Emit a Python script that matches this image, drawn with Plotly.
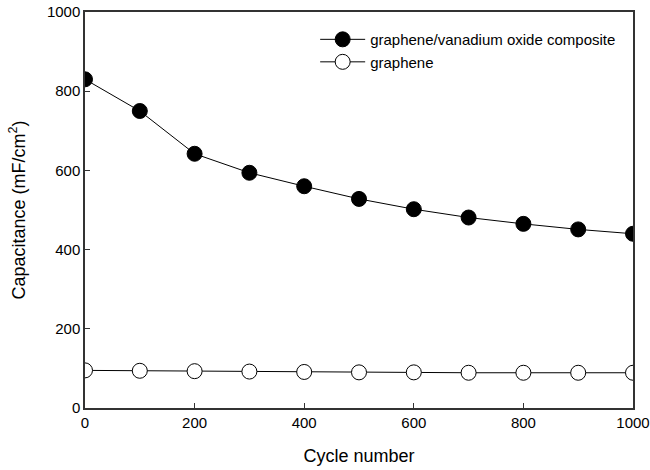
import plotly.graph_objects as go

cycles = [0, 100, 200, 300, 400, 500, 600, 700, 800, 900, 1000]
composite = [830, 750, 642, 594, 560, 528, 502, 481, 465, 451, 440]
graphene = [95, 94, 93, 92, 91, 90, 90, 89, 89, 89, 89]
x_ticks = [0, 200, 400, 600, 800, 1000]
y_ticks = [0, 200, 400, 600, 800, 1000]

fig = go.Figure()
fig.add_trace(go.Scatter(
    x=cycles, y=composite, mode="lines+markers",
    name="graphene/vanadium oxide composite",
    line=dict(color="black", width=1),
    marker=dict(symbol="circle", size=15, color="black", line=dict(color="black", width=1)),
))
fig.add_trace(go.Scatter(
    x=cycles, y=graphene, mode="lines+markers",
    name="graphene",
    line=dict(color="black", width=1),
    marker=dict(symbol="circle", size=15, color="white", line=dict(color="black", width=1)),
))

fig.update_layout(
    width=650, height=470,
    margin=dict(l=85, r=17, t=12, b=62, autoexpand=False),
    paper_bgcolor="white", plot_bgcolor="white",
    font=dict(family="Liberation Sans, Arial", color="black", size=15),
    showlegend=True,
    legend=dict(x=0.42, y=0.972, xanchor="left", yanchor="top",
                bgcolor="rgba(0,0,0,0)", font=dict(size=15),
                tracegroupgap=0, itemwidth=45),
    xaxis=dict(range=[0, 1000], tickvals=x_ticks, ticks="inside", ticklen=5,
               tickcolor="#333", showline=True, linecolor="#333", linewidth=1.5,
               mirror=True, showgrid=False, zeroline=False, automargin=False,
               title=dict(text="Cycle number", font=dict(size=18), standoff=20),
               tickfont=dict(size=15)),
    yaxis=dict(range=[0, 1000], tickvals=y_ticks, ticks="inside", ticklen=5,
               tickcolor="#333", showline=True, linecolor="#333", linewidth=1.5,
               mirror=True, showgrid=False, zeroline=False, automargin=False,
               title=dict(text="Capacitance (mF/cm<sup>2</sup>)", font=dict(size=18), standoff=17),
               tickfont=dict(size=15)),
)

fig.write_html("out.html")
